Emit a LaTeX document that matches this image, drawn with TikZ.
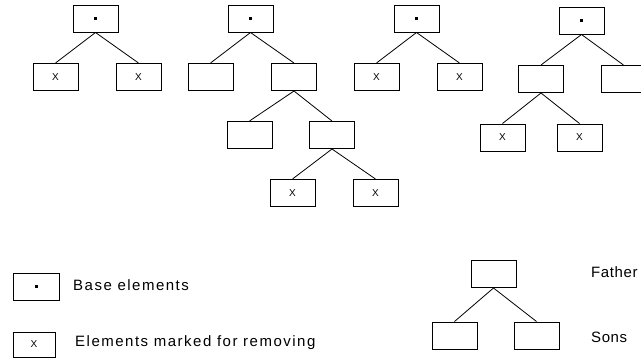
\documentclass[tikz,border=0pt]{standalone}
\usepackage{fontspec}
\setmainfont{Liberation Sans}
\begin{document}
\begin{tikzpicture}[x=1pt,y=-1pt,
  box/.style={draw,line width=1pt,minimum width=45pt,minimum height=27pt,inner sep=0pt},
  xlab/.style={font=\fontsize{10}{10}\selectfont},
  edge/.style={line width=0.8pt},
  legtext/.style={anchor=west,inner sep=0pt,font=\fontsize{15}{15}\selectfont\addfontfeatures{LetterSpace=10}},
  fstext/.style={anchor=west,inner sep=0pt,font=\fontsize{15}{15}\selectfont\addfontfeatures{LetterSpace=4}}]
\useasboundingbox (0,0) rectangle (641,360);
\clip (0,0) rectangle (641,360);
\newcommand{\basedot}{\rule{3pt}{3pt}}
% tree 1
\node[box] (t1r) at (95.5,18.5) {\basedot};
\node[box,xlab] (t1a) at (55.5,77) {X};
\node[box,xlab] (t1b) at (138.5,77) {X};
\draw[edge] (t1r.south) -- (t1a.north);
\draw[edge] (t1r.south) -- (t1b.north);
% tree 2
\node[box] (t2r) at (250.5,18.5) {\basedot};
\node[box] (t2a) at (210.5,77) {};
\node[box] (t2b) at (294,77) {};
\node[box] (t2ba) at (249.5,135) {};
\node[box] (t2bb) at (332,135) {};
\node[box,xlab] (t2bba) at (292.5,193) {X};
\node[box,xlab] (t2bbb) at (375.5,193) {X};
\draw[edge] (t2r.south) -- (t2a.north);
\draw[edge] (t2r.south) -- (t2b.north);
\draw[edge] (t2b.south) -- (t2ba.north);
\draw[edge] (t2b.south) -- (t2bb.north);
\draw[edge] (t2bb.south) -- (t2bba.north);
\draw[edge] (t2bb.south) -- (t2bbb.north);
% tree 3
\node[box] (t3r) at (416.5,18.5) {\basedot};
\node[box,xlab] (t3a) at (376.5,77) {X};
\node[box,xlab] (t3b) at (459.5,77) {X};
\draw[edge] (t3r.south) -- (t3a.north);
\draw[edge] (t3r.south) -- (t3b.north);
% tree 4
\node[box] (t4r) at (581.5,20.5) {\basedot};
\node[box] (t4a) at (541,79) {};
\node[box] (t4b) at (623.5,79) {};
\node[box,xlab] (t4aa) at (502.5,137.5) {X};
\node[box,xlab] (t4ab) at (579.5,137.5) {X};
\draw[edge] (t4r.south) -- (t4a.north);
\draw[edge] (t4r.south) -- (t4b.north);
\draw[edge] (t4a.south) -- (t4aa.north);
\draw[edge] (t4a.south) -- (t4ab.north);
% legend
\node[box,minimum width=46pt] (lb) at (36,286.5) {\basedot};
\node[legtext] (lbt) at (73,285) {Base elements};
\node[box,xlab,minimum width=42pt,minimum height=25pt] (lx) at (34,344.5) {X};
\node[legtext] (lxt) at (75,343) {Elements marked for removing};
\node[box] (lf) at (493.5,274) {};
\node[box] (ls1) at (454.5,335.5) {};
\node[box] (ls2) at (536.5,335.5) {};
\draw[edge] (lf.south) -- (ls1.north);
\draw[edge] (lf.south) -- (ls2.north);
\node[fstext] (lft) at (591,272) {Father};
\node[fstext] (lst) at (591,337) {Sons};
\end{tikzpicture}
\end{document}
